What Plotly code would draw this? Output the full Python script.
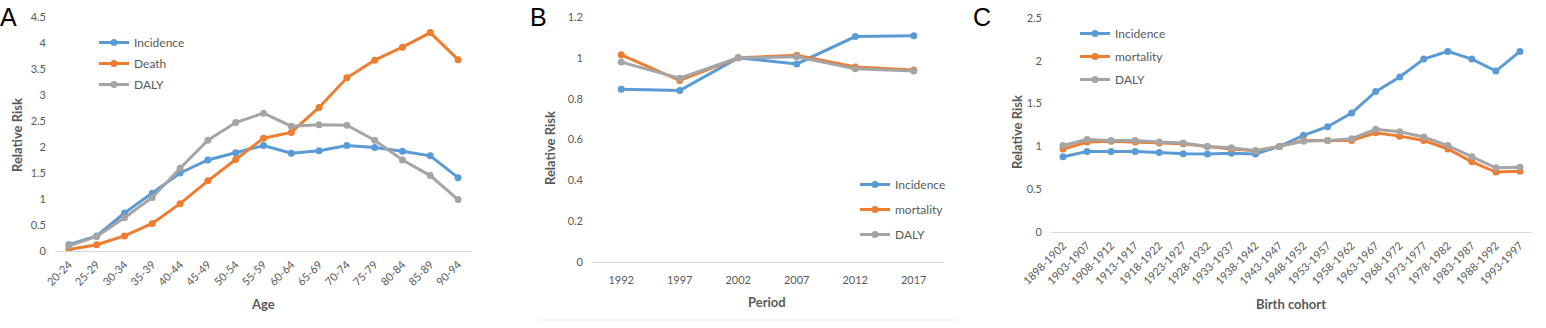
import plotly.graph_objects as go

# ---------------- data ----------------
age_groups = ["20-24", "25-29", "30-34", "35-39", "40-44", "45-49", "50-54", "55-59",
              "60-64", "65-69", "70-74", "75-79", "80-84", "85-89", "90-94"]
age_incidence = [0.12, 0.29, 0.73, 1.11, 1.50, 1.75, 1.89, 2.03, 1.88, 1.93, 2.03, 1.99, 1.92, 1.83, 1.41]
age_death = [0.03, 0.12, 0.29, 0.53, 0.91, 1.35, 1.76, 2.17, 2.28, 2.76, 3.33, 3.67, 3.92, 4.20, 3.68]
age_daly = [0.10, 0.28, 0.64, 1.03, 1.59, 2.13, 2.47, 2.65, 2.40, 2.43, 2.42, 2.13, 1.75, 1.45, 0.99]

periods = ["1992", "1997", "2002", "2007", "2012", "2017"]
period_incidence = [0.846, 0.840, 1.000, 0.970, 1.104, 1.108]
period_mortality = [1.015, 0.889, 1.000, 1.013, 0.955, 0.940]
period_daly = [0.979, 0.900, 1.000, 1.005, 0.946, 0.936]

cohorts = ["1898-1902", "1903-1907", "1908-1912", "1913-1917", "1918-1922", "1923-1927",
           "1928-1932", "1933-1937", "1938-1942", "1943-1947", "1948-1952", "1953-1957",
           "1958-1962", "1963-1967", "1968-1972", "1973-1977", "1978-1982", "1983-1987",
           "1988-1992", "1993-1997"]
cohort_incidence = [0.88, 0.94, 0.94, 0.94, 0.93, 0.915, 0.91, 0.92, 0.91, 1.00, 1.13, 1.23,
                    1.39, 1.64, 1.81, 2.02, 2.11, 2.02, 1.88, 2.11]
cohort_mortality = [0.97, 1.05, 1.06, 1.05, 1.04, 1.03, 1.00, 0.97, 0.95, 1.00, 1.07, 1.07,
                    1.07, 1.16, 1.12, 1.07, 0.97, 0.82, 0.70, 0.71]
cohort_daly = [1.01, 1.08, 1.07, 1.07, 1.05, 1.04, 1.00, 0.985, 0.95, 1.00, 1.06, 1.07,
               1.09, 1.20, 1.17, 1.11, 1.01, 0.88, 0.75, 0.755]

# ---------------- style ----------------
W, H = 1546, 328
BLUE, ORANGE, GRAY = "#5B9BD5", "#ED7D31", "#A5A5A5"
TXT = "#595959"
FONT = "Lato"

def px_x(p):
    return p / W

def px_y(p):
    return 1 - p / H

fig = go.Figure()

def add(x, y, name, color, xa, ya, legend, group):
    fig.add_trace(go.Scatter(
        x=x, y=y, name=name, mode="lines+markers",
        line=dict(color=color, width=3),
        marker=dict(color=color, size=7),
        xaxis=xa, yaxis=ya, legend=legend, legendgroup=group,
    ))

add(age_groups, age_incidence, "Incidence", BLUE, "x", "y", "legend", "a1")
add(age_groups, age_death, "Death", ORANGE, "x", "y", "legend", "a2")
add(age_groups, age_daly, "DALY", GRAY, "x", "y", "legend", "a3")

add(periods, period_incidence, "Incidence", BLUE, "x2", "y2", "legend2", "b1")
add(periods, period_mortality, "mortality", ORANGE, "x2", "y2", "legend2", "b2")
add(periods, period_daly, "DALY", GRAY, "x2", "y2", "legend2", "b3")

add(cohorts, cohort_incidence, "Incidence", BLUE, "x3", "y3", "legend3", "c1")
add(cohorts, cohort_mortality, "mortality", ORANGE, "x3", "y3", "legend3", "c2")
add(cohorts, cohort_daly, "DALY", GRAY, "x3", "y3", "legend3", "c3")

tickfont = dict(family=FONT, size=11, color=TXT)

def xaxis(dom, n, angle, standoff):
    return dict(domain=dom, type="category", range=[-0.5, n - 0.5],
                showgrid=False, zeroline=False, showline=True, linecolor="#D9D9D9",
                linewidth=1, ticks="", tickangle=angle, tickfont=tickfont,
                fixedrange=True, ticklabelstandoff=standoff)

def yaxis(dom, rng, dtick, anchor):
    return dict(domain=dom, range=rng, dtick=dtick, showgrid=False, zeroline=False,
                showline=False, ticks="", tickfont=tickfont, anchor=anchor,
                fixedrange=True, ticklabelstandoff=8)

legfont = dict(family=FONT, size=12, color=TXT)

def legend(x, y, gap):
    return dict(x=x, y=y, xanchor="left", yanchor="top", bgcolor="rgba(0,0,0,0)",
                font=legfont, tracegroupgap=gap, itemwidth=30, itemclick=False,
                itemdoubleclick=False)

fig.update_layout(
    width=W, height=H, margin=dict(l=0, r=0, t=0, b=0, autoexpand=False),
    paper_bgcolor="white", plot_bgcolor="white",
    font=dict(family=FONT, color=TXT),
    showlegend=True,
    xaxis=xaxis([px_x(55), px_x(472)], len(age_groups), -45, 2) | dict(anchor="y"),
    yaxis=yaxis([px_y(251), px_y(17)], [0, 4.5], 0.5, "x"),
    xaxis2=xaxis([px_x(592), px_x(943)], len(periods), 0, 8) | dict(anchor="y2"),
    yaxis2=yaxis([px_y(262), px_y(17)], [0, 1.2], 0.2, "x2"),
    xaxis3=xaxis([px_x(1051), px_x(1532)], len(cohorts), -45, 2) | dict(anchor="y3"),
    yaxis3=yaxis([px_y(232), px_y(18)], [0, 2.5], 0.5, "x3"),
    legend=legend(px_x(94), px_y(28), 2),
    legend2=legend(px_x(855), px_y(170), 6),
    legend3=legend(px_x(1075), px_y(19), 4),
)

annots = []
# panel letters
for letter, x, y in [("A", 8, 17), ("B", 538, 17), ("C", 982, 17)]:
    annots.append(dict(text=letter, x=px_x(x), y=px_y(y), xref="paper", yref="paper",
                       showarrow=False, xanchor="center", yanchor="middle",
                       font=dict(family="Liberation Sans", size=25, color="black")))
# axis titles
titlefont = dict(family=FONT, size=13, color=TXT, weight="bold")
for text, x, y in [("Age", 263, 304), ("Period", 767, 302), ("Birth cohort", 1291, 304)]:
    annots.append(dict(text=text, x=px_x(x), y=px_y(y), xref="paper", yref="paper",
                       showarrow=False, xanchor="center", yanchor="middle", font=titlefont))
for x, y in [(17, 135), (550, 148), (1017, 132)]:
    annots.append(dict(text="Relative Risk", x=px_x(x), y=px_y(y), xref="paper", yref="paper",
                       showarrow=False, xanchor="center", yanchor="middle", textangle=-90,
                       font=titlefont))
fig.update_layout(annotations=annots)

# faint separator line under panel B
fig.add_shape(type="line", xref="paper", yref="paper",
              x0=px_x(537), x1=px_x(957), y0=px_y(320), y1=px_y(320),
              line=dict(color="#EBEBEB", width=1))

fig.write_html("out.html", config={"displayModeBar": False, "staticPlot": True},
               post_script="document.body.style.margin='0px';")
